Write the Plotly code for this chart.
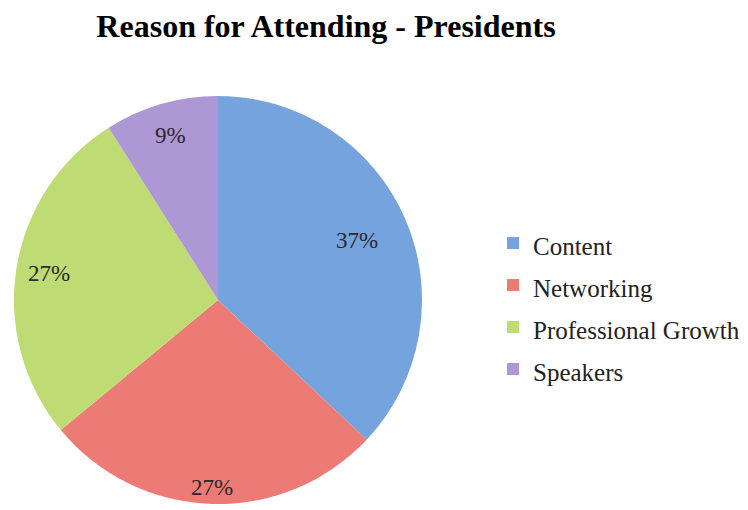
import math
import plotly.graph_objects as go

# Survey breakdown: why presidents attended
categories = ["Content", "Networking", "Professional Growth", "Speakers"]
shares = [37, 27, 27, 9]
slice_colors = ["#74a3dd", "#ec7b76", "#bfdc74", "#ad97d4"]

W, H = 748, 510
# pie placement in pixels
cx, cy, R = 218, 300, 204
# how far out along each slice its percentage sits (fraction of radius)
label_radius = [0.74, 0.92, 0.84, 0.84]

# legend rows are spaced by the legend font size; the visible text is a bit smaller
legend_labels = [f"<span style='font-size:25px'>{c}</span>" for c in categories]

fig = go.Figure(
    go.Pie(
        labels=legend_labels,
        values=shares,
        sort=False,
        direction="clockwise",
        rotation=0,
        marker=dict(colors=slice_colors, line=dict(width=0)),
        textinfo="none",
        hoverinfo="label+percent",
        domain=dict(
            x=[(cx - R) / W, (cx + R) / W],
            y=[(H - cy - R) / H, (H - cy + R) / H],
        ),
    )
)

# percentage labels placed along each slice's mid angle
total = sum(shares)
cum = 0
annotations = []
for val, rf in zip(shares, label_radius):
    mid = (cum + val / 2) / total * 2 * math.pi
    cum += val
    px = cx + rf * R * math.sin(mid)
    py = cy - rf * R * math.cos(mid)
    annotations.append(
        dict(
            x=px / W,
            y=1 - py / H,
            xref="paper",
            yref="paper",
            text=f"{round(val / total * 100)}%",
            showarrow=False,
            xanchor="center",
            yanchor="middle",
            font=dict(family="Liberation Serif", size=23, color="#2a2a2a"),
        )
    )

fig.update_layout(
    width=W,
    height=H,
    margin=dict(l=0, r=0, t=0, b=0),
    paper_bgcolor="white",
    plot_bgcolor="white",
    title=dict(
        text="<b>Reason for Attending - Presidents</b>",
        x=326 / W,
        xanchor="center",
        y=1 - 26 / H,
        yanchor="middle",
        font=dict(family="Liberation Serif", size=32, color="black"),
    ),
    legend=dict(
        x=493 / W,
        xanchor="left",
        y=1 - 306 / H,
        yanchor="middle",
        font=dict(family="Liberation Serif", size=30, color="#222222"),
        bgcolor="rgba(0,0,0,0)",
    ),
    annotations=annotations,
    showlegend=True,
)

fig.write_html("out.html")
